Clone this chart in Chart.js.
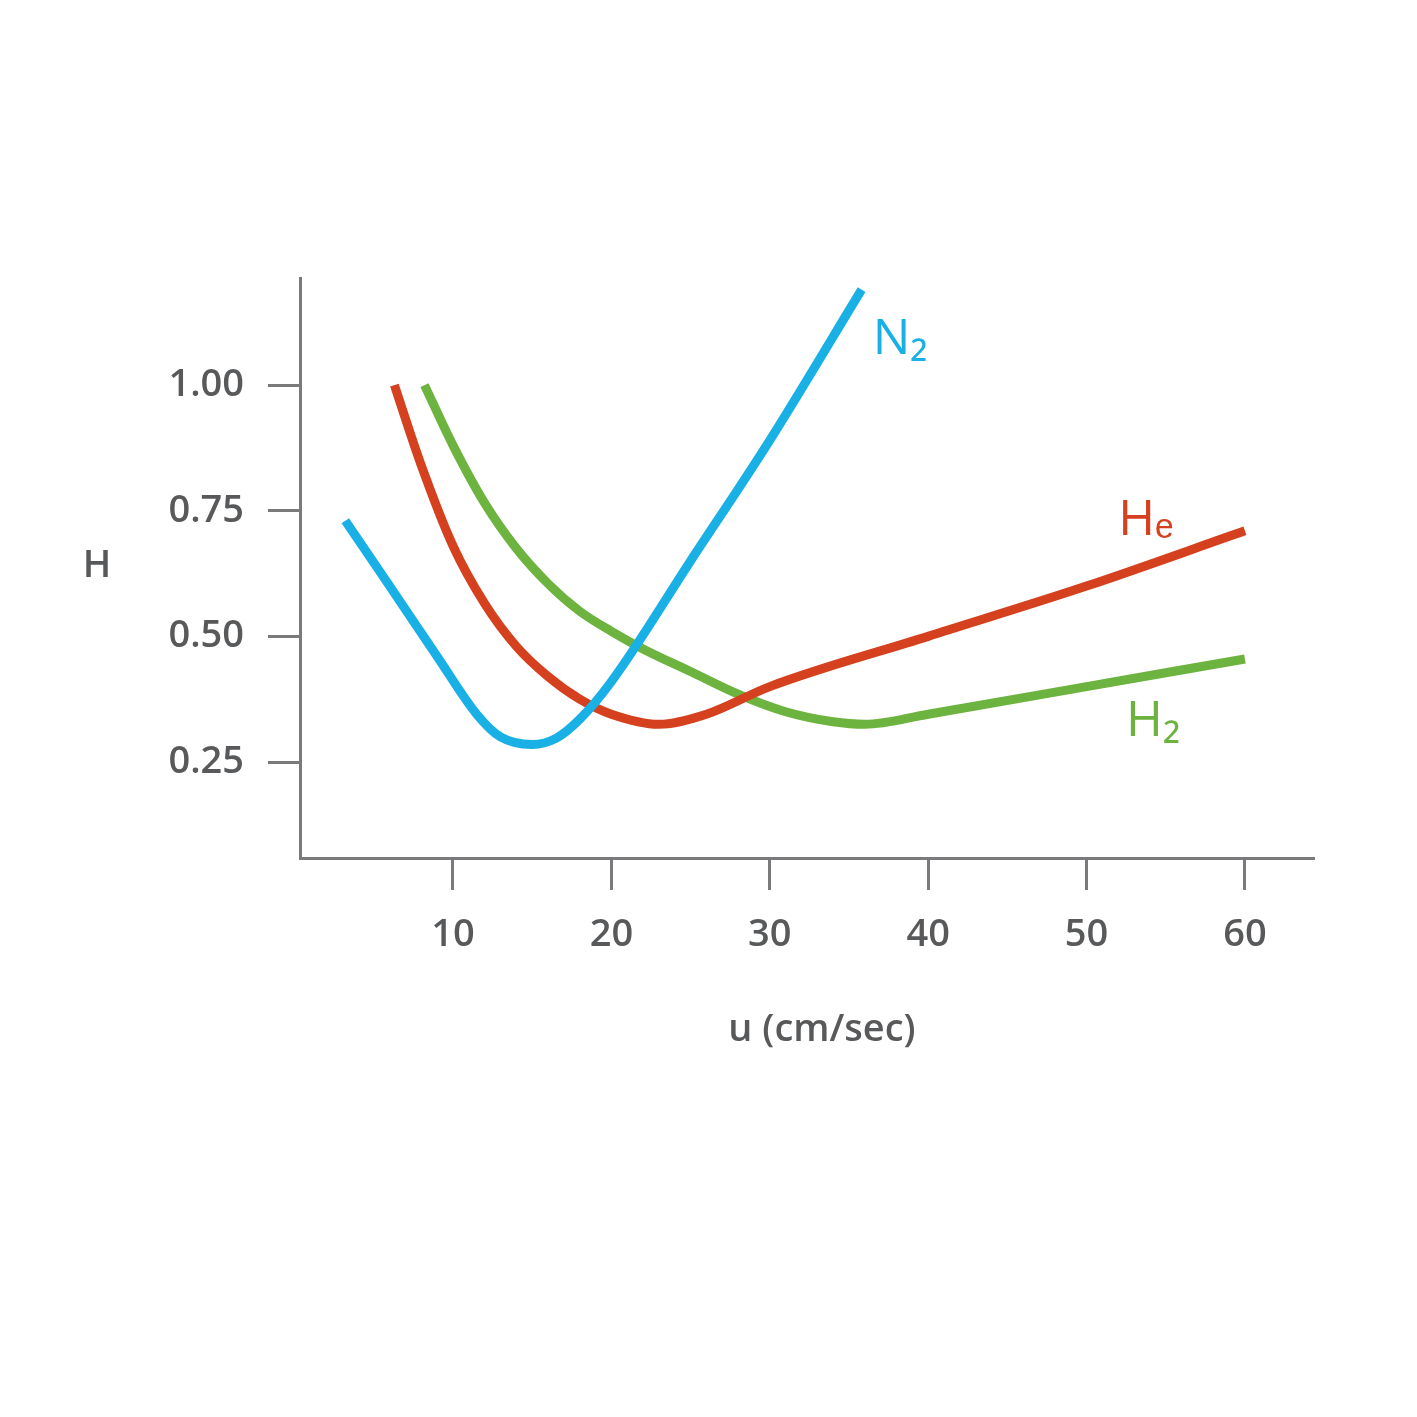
<!DOCTYPE html>
<html><head><meta charset="utf-8">
<script src="https://cdn.jsdelivr.net/npm/chart.js@4"></script>
<style>html,body{margin:0;padding:0;background:#fff}#wrap{width:1417px;height:1417px}</style>
</head><body><div id="wrap"><canvas id="c" width="1417" height="1417"></canvas></div>
<script>
const xTicks = [10, 20, 30, 40, 50, 60];
const yTicks = [0.25, 0.5, 0.75, 1.0];
const n2U = [3.2, 6, 9, 11.5, 13, 15, 16.5, 18, 20, 25, 30, 35.8];
const n2H = [0.73, 0.60, 0.46, 0.345, 0.30, 0.285, 0.297, 0.335, 0.41, 0.65, 0.89, 1.19];
const heU = [6.3, 8, 10, 12, 14, 16, 18, 20, 23, 26, 30, 40, 50, 60];
const heH = [1.0, 0.84, 0.68, 0.565, 0.48, 0.42, 0.375, 0.345, 0.325, 0.345, 0.40, 0.50, 0.60, 0.71];
const h2U = [8.2, 10, 12, 14, 16, 18, 20, 22, 25, 28, 31, 34, 36, 40, 50, 60];
const h2H = [1.0, 0.88, 0.765, 0.675, 0.605, 0.55, 0.51, 0.475, 0.43, 0.385, 0.35, 0.33, 0.325, 0.345, 0.40, 0.455];
const seriesNames = ['N₂', 'Hₑ', 'H₂'];
const colors = ['#19b0e6', '#d5401e', '#6db33f'];
const labelPos = [[36.5, 1.09], [52, 0.73], [52.5, 0.33]];

const pts = (u, h) => u.map((v, i) => ({x: v, y: h[i]}));
const ds = [pts(n2U, n2H), pts(heU, heH), pts(h2U, h2H)].map((d, i) => ({
  label: seriesNames[i], data: d, borderColor: colors[i], borderWidth: 9,
  pointRadius: 0, cubicInterpolationMode: 'monotone', fill: false, borderCapStyle: 'butt'
}));
const textColor = '#58595b', axisColor = '#7a7a7c', font = '"Open Sans", sans-serif';

const labelsPlugin = {
  id: 'lbl',
  afterDraw(chart) {
    const {ctx, scales: {x, y}} = chart;
    ctx.save();
    ctx.font = '500 50px ' + font;
    ctx.textBaseline = 'middle';
    ctx.textAlign = 'left';
    seriesNames.forEach((n, i) => {
      ctx.fillStyle = colors[i];
      ctx.fillText(n, x.getPixelForValue(labelPos[i][0]), y.getPixelForValue(labelPos[i][1]));
    });
    ctx.fillStyle = textColor;
    ctx.font = '600 38px ' + font;
    ctx.textAlign = 'center';
    ctx.fillText('H', 97, 566);
    ctx.fillText('u (cm/sec)', 822, 1030);
    ctx.restore();
  }
};

new Chart(document.getElementById('c'), {
  type: 'line',
  data: {datasets: ds},
  options: {
    responsive: false, animation: false,
    layout: {padding: {top: 278, right: 104, left: 0, bottom: 0}},
    plugins: {legend: {display: false}, tooltip: {enabled: false}},
    scales: {
      x: {
        type: 'linear', min: 0.34, max: 64.3,
        afterFit(s) { s.height = 1417 - 858; },
        afterBuildTicks(s) { s.ticks = xTicks.map(v => ({value: v})); },
        grid: {drawOnChartArea: false, drawTicks: true, tickLength: 32, color: axisColor, lineWidth: 3},
        border: {display: true, color: axisColor, width: 3},
        ticks: {color: textColor, font: {size: 38, weight: '600', family: font}, padding: 22, maxRotation: 0}
      },
      y: {
        type: 'linear', min: 0.059, max: 1.213,
        afterFit(s) { s.width = 300; },
        afterBuildTicks(s) { s.ticks = yTicks.map(v => ({value: v})); },
        grid: {drawOnChartArea: false, drawTicks: true, tickLength: 32, color: axisColor, lineWidth: 3},
        border: {display: true, color: axisColor, width: 3},
        ticks: {color: textColor, font: {size: 38, weight: '600', family: font}, padding: 24, callback: v => v.toFixed(2)}
      }
    }
  },
  plugins: [labelsPlugin]
});
</script></body></html>
